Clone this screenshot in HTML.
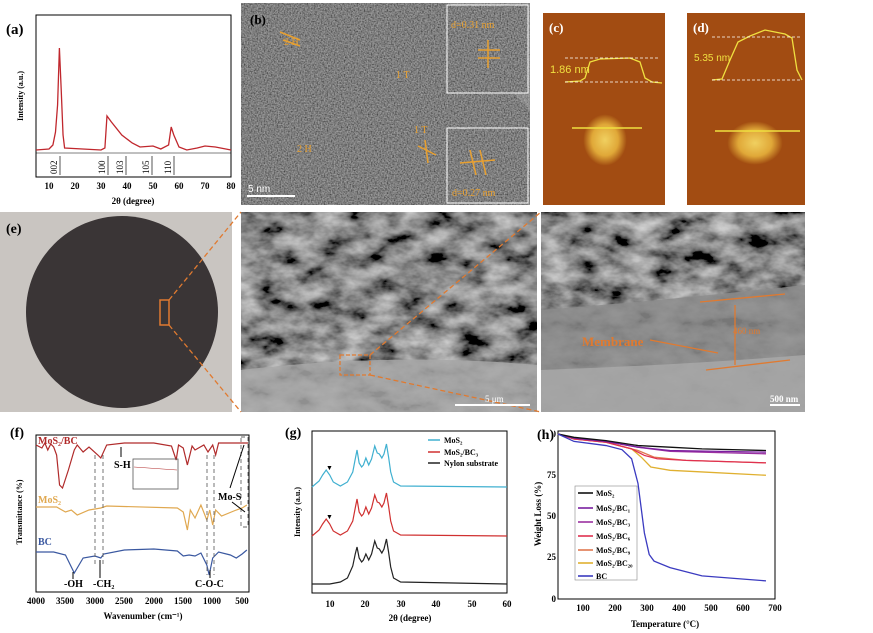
<!DOCTYPE html>
<html><head><meta charset="utf-8"><style>
body{margin:0;background:#fff}
svg{display:block;font-family:"Liberation Serif",serif}
.ax{fill:none;stroke:#000;stroke-width:1}
.t{font-size:9px}
.b{font-weight:bold}
</style></head><body>
<svg width="873" height="633" viewBox="0 0 873 633">
<defs>
<filter id="nz" x="0" y="0" width="100%" height="100%"><feTurbulence type="fractalNoise" baseFrequency="0.7" numOctaves="2" seed="3"/><feColorMatrix type="matrix" values="0.5 0 0 0 -0.04 0.5 0 0 0 -0.04 0.5 0 0 0 -0.04 0 0 0 0 1"/></filter>
<filter id="sem" x="0" y="0" width="100%" height="100%"><feTurbulence type="fractalNoise" baseFrequency="0.035 0.06" numOctaves="4" seed="7"/><feColorMatrix type="matrix" values="1.0 0 0 0 -0.25 1.0 0 0 0 -0.25 1.0 0 0 0 -0.25 0 0 0 0 1"/></filter>
<radialGradient id="blob"><stop offset="0" stop-color="#f0d060"/><stop offset="0.6" stop-color="#e0a838"/><stop offset="1" stop-color="#a04a10"/></radialGradient>
</defs>

<!-- (a) -->
<text x="6" y="34" font-size="15" class="b">(a)</text>
<rect x="36" y="15" width="195" height="162" class="ax"/>
<line x1="36" y1="153" x2="231" y2="153" stroke="#000" stroke-width="0.5"/>
<polyline vector-effect="non-scaling-stroke" transform="translate(36,0) scale(2.6,1) translate(-5,0)" fill="none" stroke="#c0272d" stroke-width="1.3" points="5,150 10,149 11.5,145 12.5,132 13.3,105 14,48 14.7,90 15.4,135 16,148 30,150 31.5,148 32.3,116 34,122 38,135 42,143 45,147 50,146 53,149 56,145 57,127 58,135 60,147 63,150 67,148 70,146 74,147 80,150"/>
<g stroke="#555" stroke-width="1"><line x1="60" y1="156" x2="60" y2="175"/><line x1="108" y1="156" x2="108" y2="175"/><line x1="126" y1="156" x2="126" y2="175"/><line x1="152" y1="156" x2="152" y2="175"/><line x1="174" y1="156" x2="174" y2="175"/></g>
<g class="t" font-size="8"><text transform="translate(57,174) rotate(-90)">002</text><text transform="translate(105,174) rotate(-90)">100</text><text transform="translate(123,174) rotate(-90)">103</text><text transform="translate(149,174) rotate(-90)">105</text><text transform="translate(171,174) rotate(-90)">110</text></g>
<g class="t b" text-anchor="middle"><text x="49" y="189">10</text><text x="75" y="189">20</text><text x="101" y="189">30</text><text x="127" y="189">40</text><text x="153" y="189">50</text><text x="179" y="189">60</text><text x="205" y="189">70</text><text x="231" y="189">80</text>
<text x="133" y="204">2θ (degree)</text><text transform="translate(23,96) rotate(-90)" font-size="8">Intensity (a.u.)</text></g>

<!-- (b) TEM -->
<rect x="241" y="3" width="289" height="202" filter="url(#nz)"/>
<path d="M450,3 L530,3 L530,110 Q500,80 470,40 Z" fill="#bbb" opacity="0.3"/>
<rect x="447" y="5" width="81" height="88" filter="url(#nz)"/><rect x="447" y="5" width="81" height="88" fill="none" stroke="#fff" stroke-width="1"/>
<rect x="447" y="128" width="81" height="75" filter="url(#nz)"/><rect x="447" y="128" width="81" height="75" fill="none" stroke="#fff" stroke-width="1"/>
<text x="250" y="24" font-size="13" class="b">(b)</text>
<g fill="#e8a030" font-size="10"><text x="284" y="45">2 H</text><text x="396" y="78">1 T</text><text x="297" y="152">2 H</text><text x="414" y="133">1 T</text><text x="451" y="28">d=0.31 nm</text><text x="452" y="196">d=0.27 nm</text></g>
<g stroke="#e8a030" stroke-width="1.5"><line x1="280" y1="32" x2="300" y2="40"/><line x1="283" y1="40" x2="300" y2="46"/><line x1="478" y1="50" x2="500" y2="50"/><line x1="478" y1="58" x2="500" y2="58"/><line x1="488" y1="40" x2="488" y2="68"/><line x1="418" y1="146" x2="436" y2="155"/><line x1="425" y1="140" x2="428" y2="163"/><line x1="470" y1="150" x2="476" y2="175"/><line x1="480" y1="150" x2="486" y2="175"/><line x1="460" y1="163" x2="495" y2="160"/></g>
<line x1="247" y1="196" x2="295" y2="196" stroke="#fff" stroke-width="2"/><text x="248" y="192" fill="#fff" font-size="10" font-family="Liberation Sans,sans-serif">5 nm</text>

<!-- (c)(d) AFM -->
<rect x="543" y="13" width="122" height="192" fill="#a24c12"/>
<ellipse cx="605" cy="140" rx="22" ry="26" fill="url(#blob)"/>
<line x1="572" y1="128" x2="642" y2="128" stroke="#f0e040" stroke-width="1.5"/>
<polyline fill="none" stroke="#f0e040" stroke-width="1.3" points="565,82 580,81 585,78 590,62 600,59 630,58 640,62 645,78 652,82 662,83"/>
<g stroke="#fff" stroke-dasharray="3,2" stroke-width="0.8"><line x1="565" y1="58" x2="660" y2="58"/><line x1="565" y1="82" x2="660" y2="82"/></g>
<text x="550" y="73" fill="#f0e040" font-size="11" font-family="Liberation Sans,sans-serif">1.86 nm</text>
<text x="549" y="32" fill="#fff" font-size="13" class="b">(c)</text>
<rect x="687" y="13" width="118" height="192" fill="#a24c12"/>
<ellipse cx="755" cy="143" rx="28" ry="22" fill="url(#blob)"/>
<line x1="715" y1="131" x2="800" y2="131" stroke="#f0e040" stroke-width="1.5"/>
<polyline fill="none" stroke="#f0e040" stroke-width="1.3" points="712,80 722,79 730,60 738,42 750,36 765,30 785,34 792,38 797,70 802,80"/>
<g stroke="#fff" stroke-dasharray="3,2" stroke-width="0.8"><line x1="712" y1="37" x2="800" y2="37"/><line x1="712" y1="80" x2="800" y2="80"/></g>
<text x="694" y="61" fill="#f0e040" font-size="10" font-family="Liberation Sans,sans-serif">5.35 nm</text>
<text x="693" y="32" fill="#fff" font-size="13" class="b">(d)</text>

<!-- (e) -->
<rect x="0" y="212" width="232" height="200" fill="#c9c5c1"/>
<circle cx="122" cy="312" r="96" fill="#3a3536"/>
<rect x="160" y="300" width="9" height="25" fill="none" stroke="#e07a30" stroke-width="1.5"/>
<text x="6" y="233" font-size="14" class="b">(e)</text>
<rect x="241" y="212" width="296" height="200" filter="url(#sem)"/>
<path d="M241,370 Q390,352 537,365 L537,412 L241,412Z" fill="#a8a8a8" opacity="0.85"/>
<rect x="541" y="212" width="264" height="200" filter="url(#sem)"/>
<path d="M541,310 Q670,300 805,285 L805,412 L541,412Z" fill="#8c8c8c" opacity="0.85"/>
<path d="M541,370 Q680,365 805,355 L805,412 L541,412Z" fill="#aaa" opacity="0.8"/>
<g stroke="#e07a30" stroke-width="1.3" fill="none"><rect x="340" y="355" width="30" height="20" stroke-dasharray="4,2"/>
<line x1="169" y1="300" x2="241" y2="212" stroke-dasharray="5,3"/><line x1="169" y1="325" x2="241" y2="412" stroke-dasharray="5,3"/>
<line x1="370" y1="355" x2="541" y2="212" stroke-dasharray="5,3"/><line x1="370" y1="375" x2="541" y2="412" stroke-dasharray="5,3"/>
<line x1="700" y1="302" x2="785" y2="294"/><line x1="706" y1="370" x2="790" y2="360"/><line x1="735" y1="305" x2="735" y2="365"/><line x1="650" y1="340" x2="718" y2="353"/></g>
<text x="582" y="346" fill="#e07a30" font-size="13" class="b">Membrane</text><text x="733" y="334" fill="#e07a30" font-size="9">460 nm</text>
<line x1="455" y1="405" x2="530" y2="405" stroke="#fff" stroke-width="2"/><text x="485" y="402" fill="#fff" font-size="9">5 μm</text>
<line x1="770" y1="405" x2="800" y2="405" stroke="#fff" stroke-width="2"/><text x="770" y="402" fill="#fff" font-size="9" class="b">500 nm</text>

<!-- (f) -->
<text x="10" y="437" font-size="14" class="b">(f)</text>
<rect x="36" y="435" width="213" height="157" class="ax"/>
<g fill="none" stroke-width="1.2">
<polyline vector-effect="non-scaling-stroke" transform="translate(36,0) scale(-0.0589,1) translate(-4000,0)" stroke="#b02a2a" points="4000,445 3900,448 3850,443 3800,450 3750,444 3700,447 3650,455 3600,485 3550,488 3450,470 3350,450 3300,445 3200,452 3100,447 2950,455 2900,458 2800,445 2500,443 2000,443 1700,446 1620,460 1580,445 1500,448 1430,465 1350,446 1300,450 1150,445 1080,452 1000,445 950,455 900,443 400,443"/>
<polyline vector-effect="non-scaling-stroke" transform="translate(36,0) scale(-0.0589,1) translate(-4000,0)" stroke="#e0a850" points="4000,507 3650,507 3500,512 3400,510 3300,515 3100,510 2900,508 2800,506 1600,508 1500,512 1430,530 1380,510 1300,518 1200,505 1100,520 1050,510 1000,525 950,510 850,516 600,510 500,508 420,505"/>
<polyline vector-effect="non-scaling-stroke" transform="translate(36,0) scale(-0.0589,1) translate(-4000,0)" stroke="#3a58a0" points="4000,552 3700,552 3500,555 3350,573 3200,558 3000,556 2900,558 2850,554 2500,550 2000,549 1600,551 1500,556 1400,555 1300,556 1200,553 1100,565 1060,575 1000,558 900,552 700,555 600,558 500,554 420,550"/>
</g>
<g stroke="#666" stroke-dasharray="4,3" stroke-width="0.9" fill="none"><line x1="95" y1="455" x2="95" y2="565"/><line x1="103" y1="455" x2="103" y2="565"/><line x1="207" y1="455" x2="207" y2="575"/><line x1="214" y1="455" x2="214" y2="575"/><rect x="241" y="437" width="7" height="90"/></g>
<rect x="133" y="459" width="45" height="30" fill="none" stroke="#555" stroke-width="0.8"/><polyline points="134,467 177,470" stroke="#b02a2a" fill="none" stroke-width="0.6"/>
<g font-size="10" class="b"><text x="38" y="444" fill="#b02a2a">MoS₂/BC</text><text x="38" y="503" fill="#e0a850">MoS₂</text><text x="38" y="545" fill="#3a58a0">BC</text>
<text x="114" y="468">S-H</text><text x="218" y="500">Mo-S</text><text x="64" y="587">-OH</text><text x="93" y="587">-CH₂</text><text x="195" y="587">C-O-C</text></g>
<g stroke="#000" stroke-width="1"><line x1="121" y1="447" x2="121" y2="457"/><line x1="73" y1="572" x2="73" y2="579"/><line x1="100" y1="560" x2="100" y2="578"/><line x1="210" y1="570" x2="210" y2="578"/><line x1="230" y1="488" x2="244" y2="445"/><line x1="232" y1="502" x2="245" y2="512"/></g>
<g class="t b" text-anchor="middle"><text x="36" y="604">4000</text><text x="65" y="604">3500</text><text x="95" y="604">3000</text><text x="124" y="604">2500</text><text x="154" y="604">2000</text><text x="183" y="604">1500</text><text x="212" y="604">1000</text><text x="242" y="604">500</text>
<text x="143" y="619">Wavenumber (cm⁻¹)</text><text transform="translate(22,512) rotate(-90)" font-size="8">Transmittance (%)</text></g>

<!-- (g) -->
<text x="285" y="437" font-size="14" class="b">(g)</text>
<rect x="312" y="431" width="195" height="162" class="ax"/>
<polyline vector-effect="non-scaling-stroke" transform="translate(312,487) scale(3.545,1) translate(-5,0)" fill="none" stroke="#40b0d0" stroke-width="1.2" points="5,0 7,-6 8,-12 9,-17 10,-12 11,-5 13,-1 15,-5 16.5,-15 17.2,-28 17.7,-37 18.3,-24 19,-20 19.5,-22 20.2,-29 21,-22 21.8,-28 22.7,-41 23.4,-34 24,-33 24.7,-29 25.3,-33 26,-43 26.6,-30 27.2,-15 28,-5 30,-1 60,0"/>
<polyline vector-effect="non-scaling-stroke" transform="translate(312,536) scale(3.545,1) translate(-5,0)" fill="none" stroke="#d03030" stroke-width="1.2" points="5,0 7,-6 8,-12 9,-17 10,-12 11,-5 13,-1 15,-5 16.5,-15 17.2,-28 17.7,-37 18.3,-24 19,-20 19.5,-22 20.2,-29 21,-22 21.8,-28 22.7,-41 23.4,-34 24,-33 24.7,-29 25.3,-33 26,-43 26.6,-30 27.2,-15 28,-5 30,-1 60,0"/>
<polyline vector-effect="non-scaling-stroke" transform="translate(312,584) scale(3.545,1) translate(-5,0)" fill="none" stroke="#222" stroke-width="1.2" points="5,0 10,0 13,-2 15,-6 16.5,-18 17.2,-30 17.7,-37 18.3,-26 19,-22 19.5,-24 20.2,-30 21,-24 21.8,-30 22.7,-43 23.4,-36 24,-35 24.7,-31 25.3,-35 26,-45 26.6,-32 27.2,-17 28,-6 30,-2 60,0"/>
<g font-size="7"><text x="326" y="470">▼</text><text x="326" y="519">▼</text></g>
<g stroke-width="1.5"><line x1="428" y1="440" x2="440" y2="440" stroke="#40b0d0"/><line x1="428" y1="452" x2="440" y2="452" stroke="#d03030"/><line x1="428" y1="463" x2="440" y2="463" stroke="#222"/></g>
<g font-size="8" class="b"><text x="444" y="443">MoS₂</text><text x="444" y="455">MoS₂/BC₃</text><text x="444" y="466">Nylon substrate</text></g>
<g class="t b" text-anchor="middle"><text x="330" y="607">10</text><text x="365" y="607">20</text><text x="401" y="607">30</text><text x="436" y="607">40</text><text x="472" y="607">50</text><text x="507" y="607">60</text>
<text x="410" y="621">2θ (degree)</text><text transform="translate(300,512) rotate(-90)" font-size="8">Intensity (a.u.)</text></g>

<!-- (h) -->
<rect x="558" y="431" width="217" height="168" class="ax"/>
<g fill="none" stroke-width="1.3">
<polyline vector-effect="non-scaling-stroke" transform="translate(558,599) scale(0.32,-1.65) translate(-50,0)" stroke="#e0b030" points="50,100 100,97 200,95 280,91 310,86 340,80 400,78 500,77 700,75"/>
<polyline vector-effect="non-scaling-stroke" transform="translate(558,599) scale(0.32,-1.65) translate(-50,0)" stroke="#e07850" points="50,100 100,97 200,95 300,90 350,86 450,84 700,82.5"/>
<polyline vector-effect="non-scaling-stroke" transform="translate(558,599) scale(0.32,-1.65) translate(-50,0)" stroke="#e03050" points="50,100 100,97 200,95 280,91 320,87 360,85 450,84 700,82.5"/>
<polyline vector-effect="non-scaling-stroke" transform="translate(558,599) scale(0.32,-1.65) translate(-50,0)" stroke="#9b30a0" points="50,100 100,97.5 200,95.5 300,92 400,89.5 700,88"/>
<polyline vector-effect="non-scaling-stroke" transform="translate(558,599) scale(0.32,-1.65) translate(-50,0)" stroke="#7a1fa0" points="50,100 100,97.5 200,95.5 300,92 400,90 700,89"/>
<polyline vector-effect="non-scaling-stroke" transform="translate(558,599) scale(0.32,-1.65) translate(-50,0)" stroke="#111" points="50,100 100,98 200,96 300,93 400,92 500,91 700,90"/>
<polyline vector-effect="non-scaling-stroke" transform="translate(558,599) scale(0.32,-1.65) translate(-50,0)" stroke="#3b3bc0" points="50,100 100,95.5 200,93 250,90.5 280,85 300,70 320,40 335,27 350,23 400,19 500,14 600,12.5 700,11"/>
</g>
<rect x="575" y="486" width="62" height="94" fill="#fff" stroke="#888" stroke-width="0.6"/>
<g stroke-width="1.6"><line x1="578" y1="493" x2="593" y2="493" stroke="#111"/><line x1="578" y1="508" x2="593" y2="508" stroke="#7a1fa0"/><line x1="578" y1="522" x2="593" y2="522" stroke="#9b30a0"/><line x1="578" y1="536" x2="593" y2="536" stroke="#e03050"/><line x1="578" y1="550" x2="593" y2="550" stroke="#e07850"/><line x1="578" y1="563" x2="593" y2="563" stroke="#e0b030"/><line x1="578" y1="576" x2="593" y2="576" stroke="#3b3bc0"/></g>
<g font-size="8" class="b"><text x="596" y="496">MoS₂</text><text x="596" y="511">MoS₂/BC₁</text><text x="596" y="525">MoS₂/BC₃</text><text x="596" y="539">MoS₂/BC₆</text><text x="596" y="553">MoS₂/BC₉</text><text x="596" y="566">MoS₂/BC₂₀</text><text x="596" y="579">BC</text></g>
<g class="t b"><g text-anchor="end"><text x="556" y="437">100</text><text x="556" y="478">75</text><text x="556" y="519">50</text><text x="556" y="560">25</text><text x="556" y="602">0</text></g>
<g text-anchor="middle"><text x="583" y="611">100</text><text x="615" y="611">200</text><text x="647" y="611">300</text><text x="679" y="611">400</text><text x="711" y="611">500</text><text x="743" y="611">600</text><text x="775" y="611">700</text>
<text x="665" y="627">Temperature (°C)</text><text transform="translate(541,514) rotate(-90)">Weight Loss (%)</text></g></g>
<rect x="538" y="426" width="16" height="15" fill="#fff"/>
<text x="537" y="439" font-size="14" class="b">(h)</text>
</svg>
</body></html>
